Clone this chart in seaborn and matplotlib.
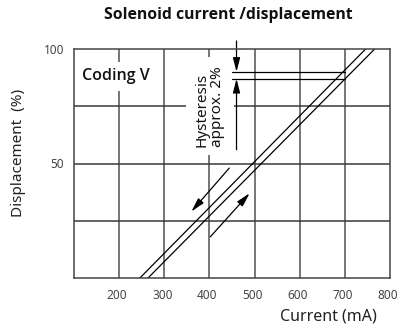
import matplotlib
matplotlib.use("Agg")
import matplotlib.pyplot as plt
import matplotlib.transforms as mtransforms
import seaborn as sns
import pandas as pd

# Characteristic: solenoid current vs. spool displacement (two hysteresis branches)
branch_names = ["decreasing", "increasing"]
branch_current_decreasing = [246, 746]   # mA
branch_current_increasing = [264, 766]   # mA
branch_displacement = [0, 100]           # %

# Hysteresis markers at 700 mA
hysteresis_levels = [90, 87]             # %
hysteresis_span = [449, 700]             # mA
hysteresis_marker_current = 460          # mA

# Direction arrows (start -> end), in mA / %
arrow_down = [(444, 48), (360, 29)]
arrow_up = [(402, 18), (489, 37)]

current_ticks = [200, 300, 400, 500, 600, 700, 800]
displacement_ticks = [50, 100]
grid_current = [200, 300, 400, 500, 600, 700]
grid_displacement = [25, 50, 75]

sns.set_theme(style="white")
plt.rcParams["font.family"] = ["Noto Sans", "DejaVu Sans"]

df = pd.DataFrame({
    "current": branch_current_decreasing + branch_current_increasing,
    "displacement": branch_displacement * 2,
    "branch": [branch_names[0]] * 2 + [branch_names[1]] * 2,
})

fig = plt.figure(figsize=(3.99, 3.29), dpi=100)
ax = fig.add_axes([74 / 399, 1 - 278 / 329, 316 / 399, 229 / 329])

grid_color = "#444444"
for c in grid_current:
    ax.axvline(c, color="#505050", lw=1.1, zorder=1)
for d in grid_displacement:
    ax.axhline(d, color="#3a3a3a", lw=1.1, zorder=1)

sns.lineplot(data=df, x="current", y="displacement", units="branch",
             estimator=None, color="black", lw=0.9, ax=ax, zorder=4,
             legend=False)

for lvl in hysteresis_levels:
    ax.plot(hysteresis_span, [lvl, lvl], color="black", lw=0.9, zorder=4)

arrow_kw = dict(arrowstyle="-|>,head_length=0.7,head_width=0.18",
                color="black", lw=0.9, shrinkA=0, shrinkB=0)
ax.annotate("", xy=(hysteresis_marker_current, hysteresis_levels[0]),
            xytext=(hysteresis_marker_current, 103.5),
            arrowprops=arrow_kw, annotation_clip=False, zorder=5)
ax.annotate("", xy=(hysteresis_marker_current, hysteresis_levels[1]),
            xytext=(hysteresis_marker_current, 56),
            arrowprops=arrow_kw, zorder=5)
ax.annotate("", xy=arrow_down[1], xytext=arrow_down[0], arrowprops=arrow_kw, zorder=5)
ax.annotate("", xy=arrow_up[1], xytext=arrow_up[0], arrowprops=arrow_kw, zorder=5)

ax.text(192, 88, "Coding V", ha="center", va="center", fontsize=11.5,
        fontweight="semibold", family=["Open Sans", "Noto Sans"], color="#111111",
        zorder=3, bbox=dict(boxstyle="square,pad=0.4", fc="white", ec="none"))
ax.text(401, 75, "Hysteresis\napprox. 2%", rotation=90, ha="center", va="center",
        multialignment="left", fontsize=11, color="#111111", linespacing=1.05,
        zorder=3, bbox=dict(boxstyle="square,pad=0.55", fc="white", ec="none"))

ax.set_xlim(100, 800)
ax.set_ylim(0, 100)
ax.set_xticks(current_ticks)
ax.set_yticks(displacement_ticks)
ax.tick_params(axis="both", length=0, labelsize=8.5, labelcolor="#444444")
ax.tick_params(axis="x", pad=8)
ax.tick_params(axis="y", pad=7)

# nudge the current tick labels slightly left so the last one stays inside
shift = mtransforms.ScaledTranslation(-2 / 100, 0, fig.dpi_scale_trans)
for tick in ax.xaxis.get_major_ticks():
    tick.label1.set_transform(tick.label1.get_transform() + shift)

for sp in ax.spines.values():
    sp.set_visible(True)
    sp.set_color(grid_color)
    sp.set_linewidth(1.1)
    sp.set_zorder(6)

ax.set_xlabel("Current (mA)", fontsize=11.5, color="#222222", ha="right", va="center")
ax.xaxis.set_label_coords(0.959, -0.17)
ax.set_ylabel("Displacement  (%)", fontsize=11, color="#222222", va="center")
ax.yaxis.set_label_coords(-0.177, 0.546)
ax.set_title("Solenoid current /displacement", fontsize=11.3, fontweight="bold",
             family=["Open Sans", "Lato", "DejaVu Sans"], color="#111111",
             x=0.487, y=1 + 34 / 229, va="center", pad=0)

fig.savefig("out.png", dpi=100)
